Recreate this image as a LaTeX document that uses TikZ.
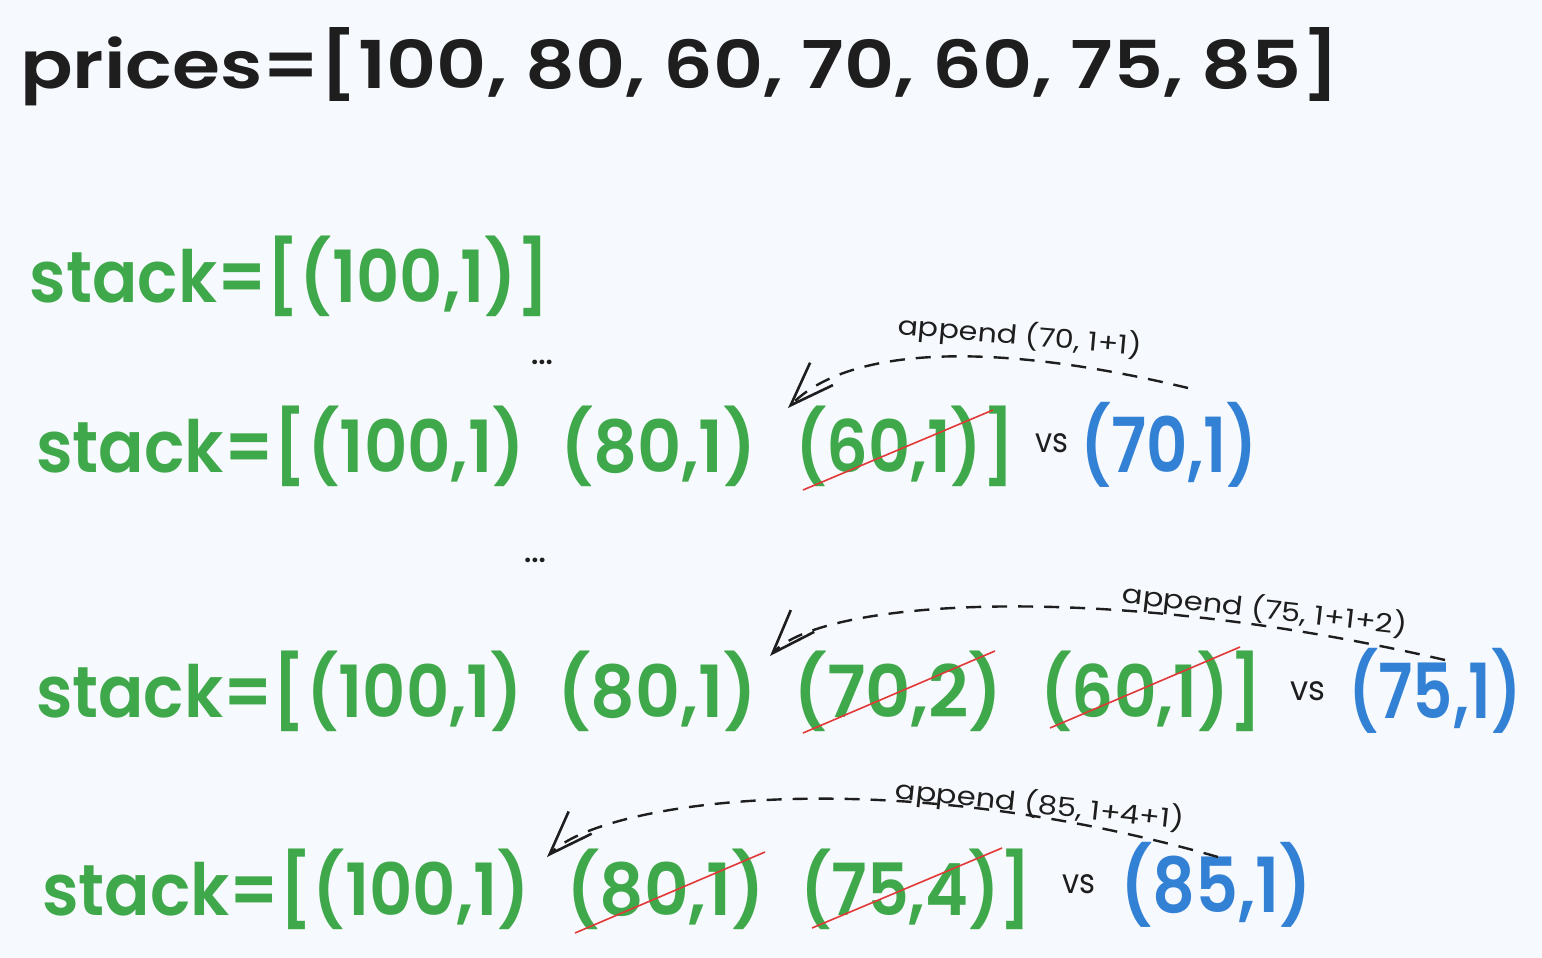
\documentclass[tikz,border=0pt]{standalone}
\usepackage{fontspec}
\usepackage{graphicx}
\setmainfont{Poppins}
\newfontfamily\popsb{Poppins SemiBold}
\usetikzlibrary{arrows.meta}
\definecolor{bg}{HTML}{F6F9FD}
\definecolor{ink}{HTML}{1E1E1E}
\definecolor{grn}{HTML}{3FA84B}
\definecolor{blu}{HTML}{3381D4}
\definecolor{strk}{HTML}{E23838}
\newcommand\fitw[2]{\resizebox{#1pt}{\height}{#2}}
\tikzset{
  txt/.style={inner sep=0pt, outer sep=0pt, anchor=base west},
  bigg/.style={txt, text=grn, font=\popsb\fontsize{72}{80}\selectfont},
  bigb/.style={txt, text=blu, font=\popsb\fontsize{76}{84}\selectfont},
  vstxt/.style={txt, text=ink, font=\fontsize{34}{40}\selectfont},
  lbl/.style={inner sep=0pt, text=ink, font=\fontsize{26}{30}\selectfont},
  dots/.style={inner sep=0pt, text=ink, font=\popsb\fontsize{28}{30}\selectfont},
  strike/.style={draw=strk, line width=1.6pt},
  appendarrow/.style={draw=ink, line width=2.4pt, dash pattern=on 15pt off 11pt,
    -{Straight Barb[length=44pt,width=32pt,line width=2.6pt]}},
}
\begin{document}
\begin{tikzpicture}[x=1pt,y=-1pt]
\useasboundingbox (0,0) rectangle (1542,958);
\fill[bg] (0,0) rectangle (1542,958);

% line 1
\node[txt, text=ink, font=\popsb\fontsize{66}{74}\selectfont] (prices) at (20,88)
  {\fitw{1320}{prices=[100, 80, 60, 70, 60, 75, 85]}};

% line 2
\node[bigg] (s1) at (30,302) {\fitw{520}{stack=[(100,1)]}};
\node[dots] (d1) at (542,362) {...};

% line 3
\node[bigg] (l3a) at (36,472) {\fitw{489}{stack=[(100,1)}};
\node[bigg] (l3b) at (560,472) {\fitw{197}{(80,1)}};
\node[bigg] (l3c) at (795,472) {\fitw{220}{(60,1)]}};
\node[vstxt] (l3vs) at (1035,452) {\fitw{33}{vs}};
\node[bigb] (l3d) at (1080,472) {\fitw{178}{(70,1)}};
\coordinate (k1a) at (803,490);
\coordinate (k1b) at (993,410);
\draw[strike] (k1a) -- (k1b);
\coordinate (a1s) at (1188,388);
\coordinate (a1e) at (788,408);
\draw[appendarrow] (a1s) .. controls (980,338) and (845,350) .. (a1e);
\node[lbl, rotate=-5] (t1) at (1020,336) {\fitw{244}{append (70, 1+1)}};

\node[dots] (d2) at (535,560) {...};

% line 4
\node[bigg] (l4a) at (36,717) {\fitw{487}{stack=[(100,1)}};
\node[bigg] (l4b) at (557,717) {\fitw{200}{(80,1)}};
\node[bigg] (l4c) at (793,717) {\fitw{210}{(70,2)}};
\node[bigg] (l4d) at (1040,717) {\fitw{222}{(60,1)]}};
\node[vstxt] (l4vs) at (1290,700) {\fitw{35}{vs}};
\node[bigb] (l4e) at (1348,718) {\fitw{174}{(75,1)}};
\coordinate (k2a) at (803,733);
\coordinate (k2b) at (995,651);
\coordinate (k3a) at (1050,728);
\coordinate (k3b) at (1240,647);
\draw[strike] (k2a) -- (k2b);
\draw[strike] (k3a) -- (k3b);
\coordinate (a2s) at (1445,660);
\coordinate (a2e) at (770,656);
\draw[appendarrow] (a2s) .. controls (1100,580) and (822,600) .. (a2e);
\node[lbl, rotate=-6.4] (t2) at (1265,610) {\fitw{286}{append (75, 1+1+2)}};

% line 5
\node[bigg] (l5a) at (42,915) {\fitw{488}{stack=[(100,1)}};
\node[bigg] (l5b) at (566,915) {\fitw{199}{(80,1)}};
\node[bigg] (l5c) at (800,915) {\fitw{232}{(75,4)]}};
\node[vstxt] (l5vs) at (1062,893) {\fitw{33}{vs}};
\node[bigb] (l5d) at (1120,912) {\fitw{192}{(85,1)}};
\coordinate (k4a) at (575,933);
\coordinate (k4b) at (765,852);
\coordinate (k5a) at (812,928);
\coordinate (k5b) at (1002,848);
\draw[strike] (k4a) -- (k4b);
\draw[strike] (k5a) -- (k5b);
\coordinate (a3s) at (1218,857);
\coordinate (a3e) at (547,857);
\draw[appendarrow] (a3s) .. controls (880,760) and (600,802) .. (a3e);
\node[lbl, rotate=-6.2] (t3) at (1040,805) {\fitw{290}{append (85, 1+4+1)}};
\end{tikzpicture}
\end{document}
